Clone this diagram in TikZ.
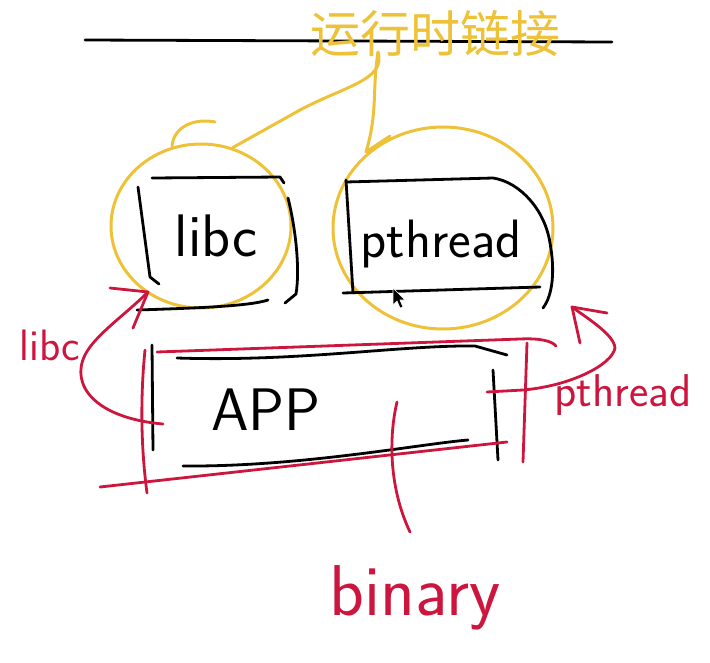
\documentclass[tikz,border=0pt]{standalone}
\usepackage{fontspec}
\newfontfamily\cjk{Noto Sans CJK SC}
\usetikzlibrary{shapes.geometric}
\definecolor{hy}{RGB}{238,194,56}
\definecolor{hr}{RGB}{204,22,62}
\begin{document}
\begin{tikzpicture}[x=1pt,y=-1pt,line cap=round,line join=round,
  blk/.style={draw=black,line width=2.8pt},
  yel/.style={draw=hy,line width=3pt},
  redl/.style={draw=hr,line width=2.8pt},
  hand/.style={font=\sffamily\fontsize{#1}{#1}\selectfont,inner sep=0pt},
  ring/.style={ellipse,yel,inner sep=0pt}]
\useasboundingbox (0,0) rectangle (710,662);

% top black line
\coordinate (tl) at (85,40);
\coordinate (tr) at (612,42);
\draw[blk] (tl) -- (tr);

% title
\node[text=hy,font=\cjk\fontsize{50}{50}\selectfont,inner sep=0pt] (title) at (435,34) {运行时链接};

% yellow rings
\node[ring,minimum width=180,minimum height=164] (libcring) at (201,226) {};
\node[ring,minimum width=220,minimum height=202] (pthring) at (443,228) {};

% yellow connectors
\coordinate (tj) at (378,52);
\draw[yel] (tj) .. controls (386,80) and (345,86) .. (300,110) -- (libcring.68);
\draw[yel] (tj) .. controls (372,90) and (378,112) .. (366,152) -- (390,136);
\draw[yel] (172,146) .. controls (174,126) and (195,118) .. (215,122);

% libc box
\draw[blk] (138,187) -- (150,277) -- (159,284);
\draw[blk] (152,178) -- (280,177) -- (284,183);
\draw[blk] (288,198) .. controls (296,230) and (300,270) .. (296,294) -- (285,303);
\draw[blk] (137,310) .. controls (200,308) and (250,306) .. (268,300);
\node[hand=60] (libc) at (216,236) {libc};

% pthread box
\draw[blk] (346,180) -- (353,293);
\draw[blk] (346,182) -- (493,178) .. controls (520,182) and (545,210) .. (550,243) .. controls (555,270) and (553,295) .. (543,308);
\draw[blk] (343,293) -- (540,287);
\node[hand=54] (pthread) at (441,244) {pthread};

% mouse pointer
\draw[fill=black,draw=white,line width=0.6pt] (393,288) -- (393,305) -- (397,301) -- (400,308) -- (403,307) -- (400,300) -- (405,300) -- cycle;

% APP box (black)
\draw[blk] (152,345) -- (153,450);
\draw[blk] (177,358) .. controls (300,362) and (400,345) .. (475,346) -- (507,355);
\draw[blk] (183,466) .. controls (300,467) and (420,444) .. (468,440);
\draw[blk] (493,370) -- (498,460);
\node[hand=60] (app) at (266,410) {APP};

% red box
\draw[redl] (157,352) -- (520,339) .. controls (540,338) and (552,341) .. (556,346);
\draw[redl] (100,487) -- (507,442);
\draw[redl] (145,350) .. controls (141,390) and (140,440) .. (147,493);
\draw[redl] (527,343) -- (523,462);

% binary
\node[hand=72,text=hr] (binary) at (415,598) {binary};
\coordinate (btop) at (397,402);
\coordinate (bend) at (410,532);
\draw[redl] (btop) .. controls (388,440) and (390,490) .. (bend);

% libc arrow
\coordinate (ltail) at (163,424);
\coordinate (ltip) at (148,292);
\draw[redl] (ltail) .. controls (95,418) and (70,385) .. (85,355) .. controls (95,335) and (125,315) .. (ltip);
\draw[redl] (110,288) -- (ltip) -- (133,328);
\node[hand=44,text=hr] (libclabel) at (50,345) {libc};

% pthread arrow
\coordinate (ptail) at (487,392);
\coordinate (ptip) at (572,307);
\draw[redl] (ptail) -- (523,390) .. controls (570,386) and (612,365) .. (615,348) .. controls (614,335) and (590,320) .. (ptip);
\draw[redl] (607,313) -- (ptip) -- (580,343);
\node[hand=46,text=hr] (pthlabel) at (623,395) {pthread};
\end{tikzpicture}
\end{document}
